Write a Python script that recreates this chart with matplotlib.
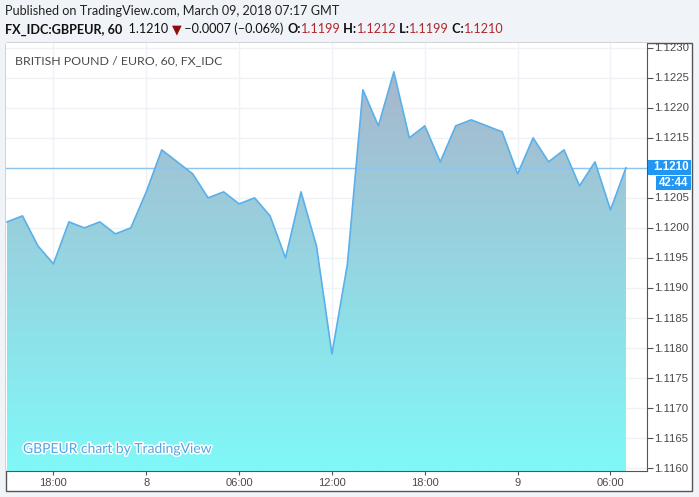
import matplotlib
matplotlib.use("Agg")
import matplotlib.pyplot as plt
import numpy as np
from matplotlib.patches import Rectangle, Polygon
from matplotlib.colors import LinearSegmentedColormap
import matplotlib.patheffects as pe

# ---- data (hourly closes, 15:00 Mar 7 -> 07:00 Mar 9) ----
closes = [1.1201, 1.1202, 1.1197, 1.1194, 1.1201, 1.1200, 1.1201, 1.1199, 1.1200, 1.1206,
          1.1213, 1.1211, 1.1209, 1.1205, 1.1206, 1.1204, 1.1205, 1.1202, 1.1195, 1.1206,
          1.1197, 1.1179, 1.1194, 1.1223, 1.1217, 1.1226, 1.1215, 1.1217, 1.1211, 1.1217,
          1.1218, 1.1217, 1.1216, 1.1209, 1.1215, 1.1211, 1.1213, 1.1207, 1.1211, 1.1203,
          1.1210]
xtick_pos = [3, 9, 15, 21, 27, 33, 39]
xtick_labels = ["18:00", "8", "06:00", "12:00", "18:00", "9", "06:00"]
ytick_vals = [1.1160, 1.1165, 1.1170, 1.1175, 1.1180, 1.1185, 1.1190, 1.1195,
              1.1200, 1.1205, 1.1210, 1.1215, 1.1220, 1.1225, 1.1230]
last_price = 1.1210
countdown = "42:44"

W, H = 699, 497
fig = plt.figure(figsize=(W / 100, H / 100), dpi=100, facecolor="#F0F3F7")

def fx(px):
    return px / W

def fy(py):
    return 1 - py / H

# outer frame
fig.patches.append(Rectangle((fx(6), fy(491)), fx(692) - fx(6), fy(43) - fy(491),
                             transform=fig.transFigure, facecolor="white",
                             edgecolor="#555555", linewidth=1, zorder=-5))

L, R, T, B = 6, 647, 43, 471
ax = fig.add_axes([fx(L), fy(B), fx(R) - fx(L), fy(T) - fy(B)])
ax.set_zorder(1)
ax.set_facecolor("white")
x = np.arange(len(closes))
ymin, ymax = 1.11595, 1.12308
ax.set_xlim(-0.065, 41.36)
ax.set_ylim(ymin, ymax)

# grid
for v in ytick_vals:
    ax.axhline(v, color="#EEF2F7", lw=1, zorder=1)
for p in xtick_pos:
    ax.axvline(p, color="#EEF2F7", lw=1, zorder=1)

# gradient fill under the line
c_top = (168 / 255, 182 / 255, 204 / 255)
c_bot = (128 / 255, 248 / 255, 248 / 255)
cmap = LinearSegmentedColormap.from_list("g", [c_bot, c_top])
top_val = max(closes)
grad = np.linspace(0, 1, 256).reshape(-1, 1)
im = ax.imshow(grad, aspect="auto", cmap=cmap, origin="lower",
               extent=[x[0], x[-1], ymin, top_val], zorder=2, interpolation="bilinear")
poly_pts = [(x[0], ymin)] + list(zip(x, closes)) + [(x[-1], ymin)]
poly = Polygon(poly_pts, closed=True, transform=ax.transData, facecolor="none", edgecolor="none")
ax.add_patch(poly)
im.set_clip_path(poly)
ax.plot(x, closes, color="#5AB0EA", lw=1.2, zorder=4)

# last price line
ax.axhline(last_price, color="#8CC6F0", lw=1, zorder=3)

# watermark
ax.annotate("GBPEUR chart by TradingView", xy=(fx(23), fy(449)), xycoords="figure fraction",
            fontsize=10, family=["Lato", "DejaVu Sans"], color="#52A6E2",
            ha="left", va="center", zorder=6,
            path_effects=[pe.withStroke(linewidth=2.2, foreground="white")])

# chart title
ax.annotate("BRITISH POUND / EURO, 60, FX_IDC", xy=(fx(15), fy(61)), xycoords="figure fraction",
            fontsize=8.9, family=["Lato", "DejaVu Sans"], color="#4A4A4A", ha="left", va="center",
            zorder=6)

# spines
for s in ["left", "top"]:
    ax.spines[s].set_visible(False)
ax.spines["right"].set_color("#555555")
ax.spines["bottom"].set_color("#555555")

ax.set_xticks(xtick_pos)
ax.set_xticklabels(xtick_labels, family="Liberation Sans", fontsize=8, color="#4A4A4A")
ax.tick_params(axis="x", direction="out", length=3, color="#555555", pad=2)
ax.yaxis.tick_right()
ax.set_yticks(ytick_vals)
ax.set_yticklabels([])
ax.tick_params(axis="y", direction="out", length=4, color="#555555")

# right scale labels (clipped); the one under the price box is hidden by it
axr = fig.add_axes([fx(R), fy(B + 1), fx(692) - fx(R), fy(T) - fy(B + 1)])
axr.set_ylim(ymin, ymax)
axr.set_xlim(0, 1)
axr.axis("off")
for v in ytick_vals:
    if abs(v - last_price) < 1e-9:
        continue
    axr.text(7 / 45, v, f"{v:.4f}", fontsize=8.2, family="Liberation Sans", color="#4A4A4A",
             ha="left", va="center", clip_on=True)

# price label boxes
fig.patches.append(Rectangle((fx(648), fy(175)), fx(691) - fx(648), fy(160) - fy(175),
                             transform=fig.transFigure, facecolor="#2196F3", edgecolor="none", zorder=5))
fig.text(fx(653), fy(167.5), f"{last_price:.4f}", fontsize=8.3, family="Liberation Sans",
         color="white", fontweight="bold", ha="left", va="center", zorder=6)
fig.patches.append(Rectangle((fx(656), fy(190)), fx(691) - fx(656), fy(176) - fy(190),
                             transform=fig.transFigure, facecolor="#2196F3", edgecolor="none", zorder=5))
fig.text(fx(659), fy(183), countdown, fontsize=8.3, family="Liberation Sans",
         color="white", fontweight="bold", ha="left", va="center", zorder=6)

# header
hf = ["Lato", "DejaVu Sans"]
fig.text(fx(5), fy(11), "Published on TradingView.com, March 09, 2018 07:17 GMT",
         fontsize=9.1, family=hf, color="#222222", ha="left", va="center")

red = "#B0282E"
pieces = [
    ("FX_IDC:GBPEUR, 60", "bold", "#111111"),
    ("  1.1210 ", "normal", "#111111"),
    ("▼", "normal", "#8E0E0E"),
    (" \u22120.0007 (\u22120.06%) ", "normal", "#111111"),
    ("O:", "bold", "#111111"),
    ("1.1199", "normal", red),
    (" H:", "bold", "#111111"),
    ("1.1212", "normal", red),
    (" L:", "bold", "#111111"),
    ("1.1199", "normal", red),
    (" C:", "bold", "#111111"),
    ("1.1210", "normal", red),
]
texts = []
for txt, wt, col in pieces:
    texts.append(fig.text(0, 0, txt, fontsize=9.1, family=hf, fontweight=wt, color=col,
                          ha="left", va="baseline"))

fig.canvas.draw()
renderer = fig.canvas.get_renderer()
xpos = fx(5)
for t in texts:
    t.set_position((xpos, fy(33.5)))
    bb = t.get_window_extent(renderer)
    xpos += bb.width / W

fig.savefig("out.png", dpi=100, facecolor=fig.get_facecolor())
